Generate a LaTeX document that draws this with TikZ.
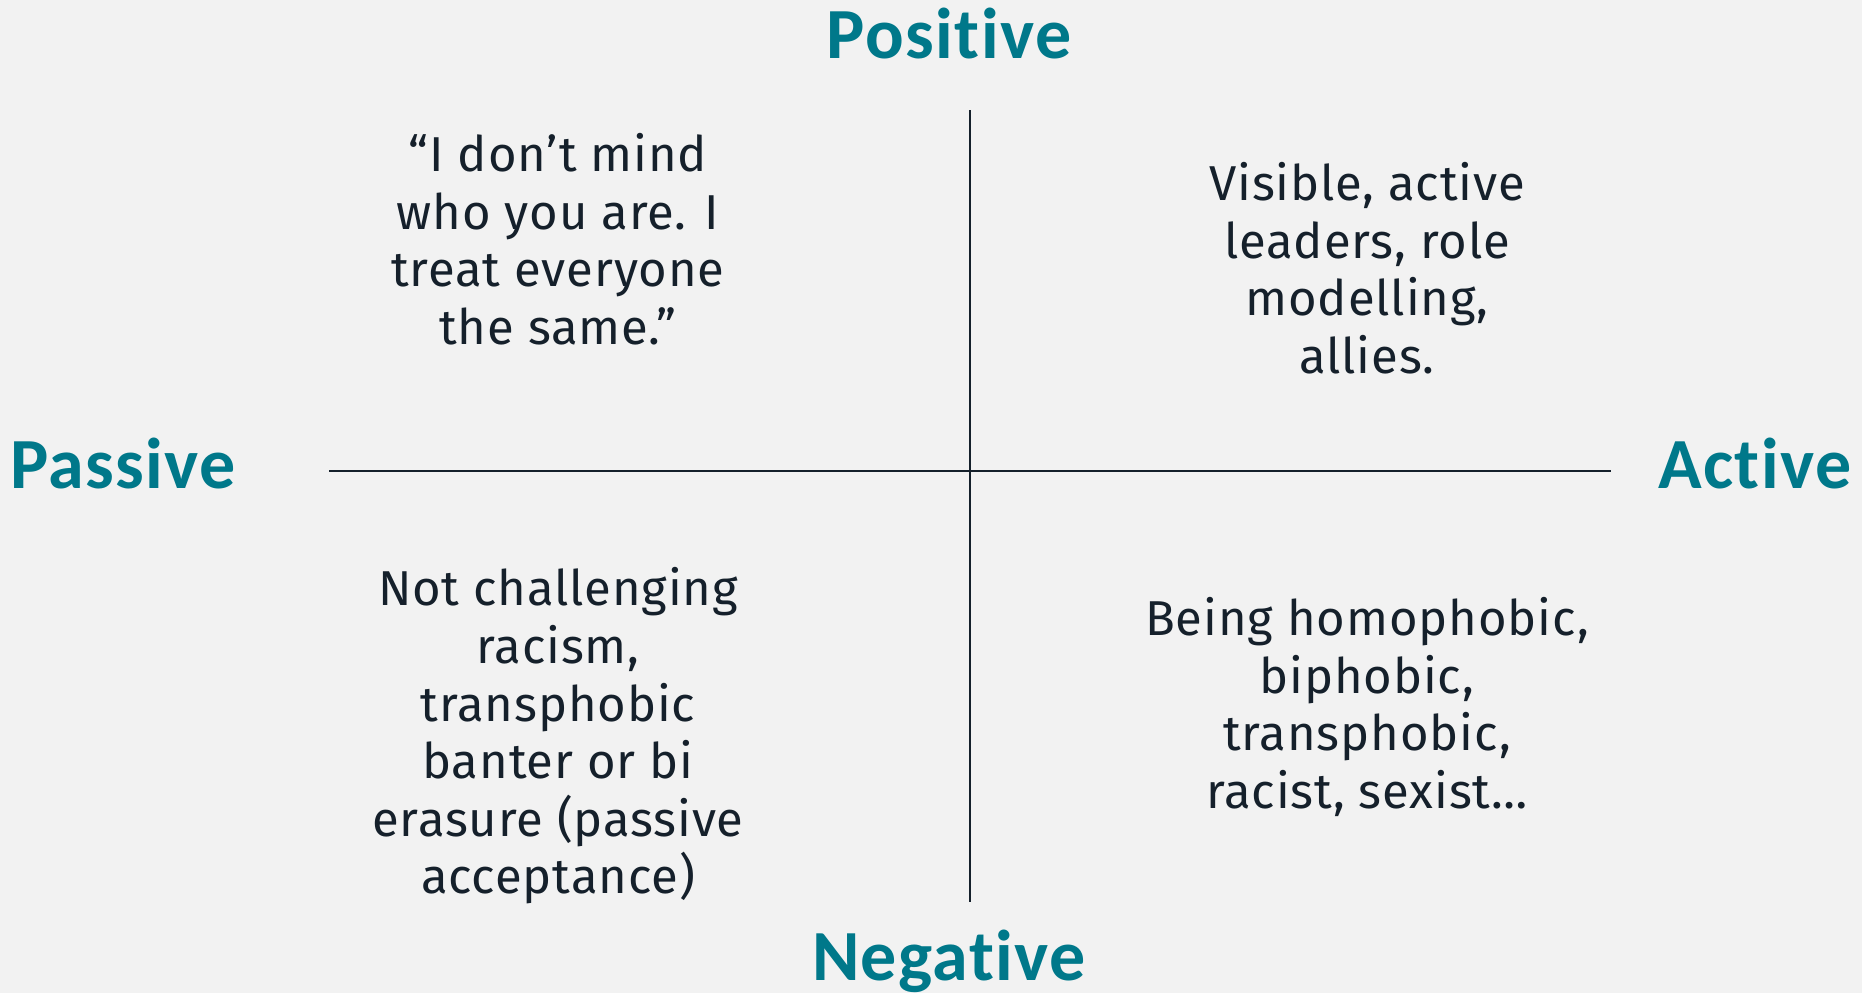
\documentclass[tikz,border=0pt]{standalone}
\usepackage{fontspec}
\setmainfont[LetterSpace=1.8]{Fira Sans}
\newfontfamily\headfont[Ligatures={NoCommon},LetterSpace=2]{Carlito}
\definecolor{bg}{HTML}{F2F2F2}
\definecolor{teal}{HTML}{00788A}
\definecolor{ink}{HTML}{15202B}
\tikzset{
  head/.style={text=teal, font=\headfont\bfseries\fontsize{72}{84}\selectfont, inner sep=0pt},
  body/.style={text=ink, align=center, font=\fontsize{49}{57.6}\selectfont, inner sep=0pt},
  axis/.style={draw=ink, line width=1.5pt}
}
\begin{document}
\begin{tikzpicture}[x=1pt,y=-1pt]
\fill[bg] (0,0) rectangle (1862,993);
\useasboundingbox (0,0) rectangle (1862,993);
\coordinate (vtop) at (970,110);
\coordinate (vbot) at (970,902);
\coordinate (hl) at (329,471);
\coordinate (hr) at (1611,471);
\draw[axis] (vtop) -- (vbot);
\draw[axis] (hl) -- (hr);
\node[head, anchor=base] (pos) at (949,58) {Positive};
\node[head, anchor=base] (neg) at (949,980) {Negative};
\node[head, anchor=base] (pas) at (123,488) {Passive};
\node[head, anchor=base] (act) at (1755,488) {Active};
\node[body] (tl) at (558,239) {“I don’t mind\\who you are. I\\treat everyone\\the same.”};
\node[body] (tr) at (1367,268) {Visible, active\\leaders, role\\modelling,\\allies.};
\node[body] (bl) at (558,736) {Not challenging\\racism,\\transphobic\\banter or bi\\erasure (passive\\acceptance)};
\node[body] (br) at (1367,707) {Being homophobic,\\biphobic,\\transphobic,\\racist, sexist…};
\end{tikzpicture}
\end{document}
